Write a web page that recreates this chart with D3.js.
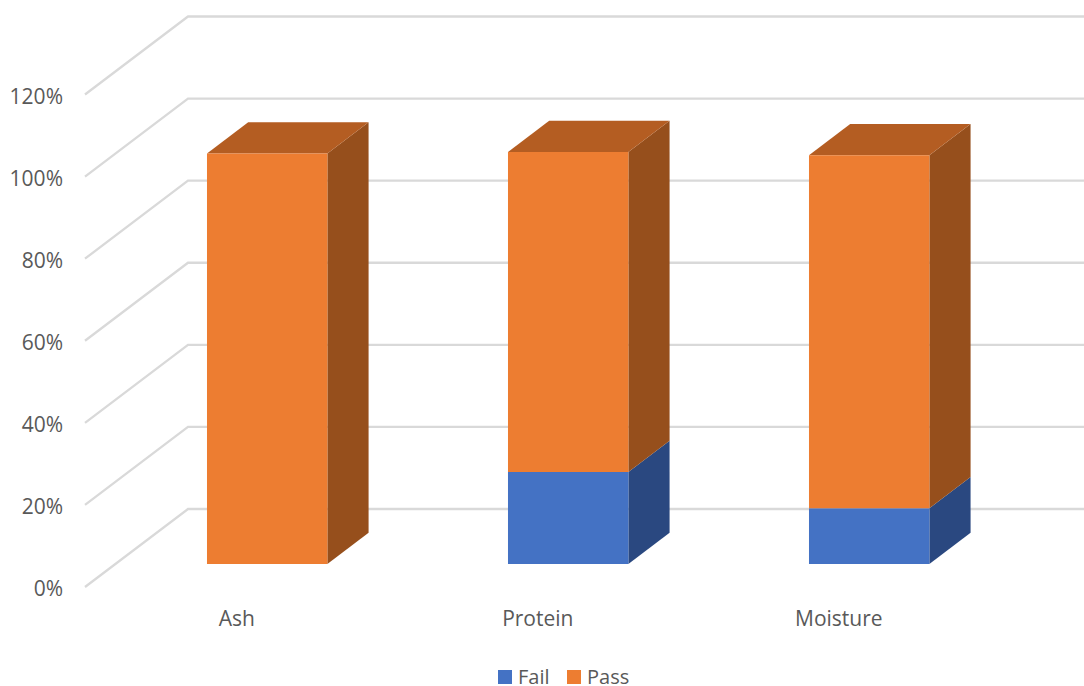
<!DOCTYPE html>
<html>
<head>
<meta charset="utf-8">
<script src="https://cdn.jsdelivr.net/npm/d3@7"></script>
<style>
  html, body { margin: 0; padding: 0; background: #fff; }
  svg { display: block; }
  text { font-family: "Open Sans", sans-serif; font-size: 21px; fill: #595959; }
  .legend-label { font-size: 20px; }
</style>
</head>
<body>
<svg id="chart" width="1084" height="686"></svg>
<script>
// Sample test outcomes, as a percentage of each category
const categories = ["Ash", "Protein", "Moisture"];
const failValues = [0, 22.4, 13.6];
const passValues = [100, 78, 86];
const tickValues = [0, 20, 40, 60, 80, 100, 120];
const seriesNames = ["Fail", "Pass"];

const palette = {
  Fail: { front: "#4472C4", side: "#2A4880", top: "#335595" },
  Pass: { front: "#ED7D31", side: "#964F1C", top: "#B45D22" }
};

const svg = d3.select("#chart");

// Front plane of the 3D box; the floor recedes up and to the right by depth
const y = d3.scaleLinear().domain([0, 120]).range([587, 94.5]);
const x = d3.scaleBand().domain(categories).range([86.3, 989.3]).paddingInner(0.6).paddingOuter(0.3);
const depth = { dx: 103, dy: -78 };
const barNear = 0.295;
const barFar = 0.695;

const project = (px, py, f) => [px + depth.dx * f, py + depth.dy * f];
const line = pts => "M" + pts.map(p => p.join(",")).join("L");

// Side wall and back wall gridlines
svg.append("g").selectAll("path")
  .data(tickValues)
  .join("path")
  .attr("fill", "none")
  .attr("stroke", "#d9d9d9")
  .attr("stroke-width", 2.3)
  .attr("d", t => line([[85, y(t)], project(85, y(t), 1), [1084, y(t) + depth.dy]]));

// Stack the two series per category
const rows = categories.map((c, i) => ({ category: c, Fail: failValues[i], Pass: passValues[i] }));
const stacked = d3.stack().keys(seriesNames)(rows);

const segments = stacked.flatMap(s => s.map(d => ({
  series: s.key,
  category: d.data.category,
  low: d[0],
  high: d[1],
  isTop: s.key === "Pass"
}))).filter(d => d.high > d.low);

function corners(d) {
  const x0 = x(d.category), x1 = x0 + x.bandwidth();
  const yLow = y(d.low), yHigh = y(d.high);
  return {
    front: [project(x0, yLow, barNear), project(x1, yLow, barNear), project(x1, yHigh, barNear), project(x0, yHigh, barNear)],
    side: [project(x1, yLow, barNear), project(x1, yLow, barFar), project(x1, yHigh, barFar), project(x1, yHigh, barNear)],
    top: [project(x0, yHigh, barNear), project(x1, yHigh, barNear), project(x1, yHigh, barFar), project(x0, yHigh, barFar)]
  };
}

const bars = svg.append("g").selectAll("g")
  .data(segments)
  .join("g");

bars.append("path")
  .attr("d", d => line(corners(d).side) + "Z")
  .attr("fill", d => palette[d.series].side);
bars.filter(d => d.isTop).append("path")
  .attr("d", d => line(corners(d).top) + "Z")
  .attr("fill", d => palette[d.series].top);
bars.append("path")
  .attr("d", d => line(corners(d).front) + "Z")
  .attr("fill", d => palette[d.series].front);

// Value axis labels
const yAxis = svg.append("g")
  .attr("transform", "translate(63,0)")
  .call(d3.axisLeft(y).tickValues(tickValues).tickSize(0).tickPadding(0).tickFormat(t => t + "%"));
yAxis.select(".domain").remove();
yAxis.selectAll("text").attr("dy", "0.41em");
yAxis.attr("font-family", null).attr("font-size", null);

// Category labels sit under the front plane of the floor
const xAxis = svg.append("g")
  .attr("transform", "translate(0,626)")
  .call(d3.axisBottom(x).tickSize(0).tickPadding(0));
xAxis.select(".domain").remove();
xAxis.selectAll("text").attr("y", 0).attr("dy", 0);
xAxis.attr("font-family", null).attr("font-size", null);

// Legend
const legendScale = d3.scaleOrdinal().domain(seriesNames).range([498, 567]);
const legend = svg.append("g").selectAll("g")
  .data(seriesNames)
  .join("g")
  .attr("transform", s => `translate(${legendScale(s)},670)`);
legend.append("rect")
  .attr("width", 14).attr("height", 14)
  .attr("fill", s => palette[s].front);
legend.append("text")
  .attr("class", "legend-label")
  .attr("x", 20).attr("y", 14)
  .text(s => s);
</script>
</body>
</html>
